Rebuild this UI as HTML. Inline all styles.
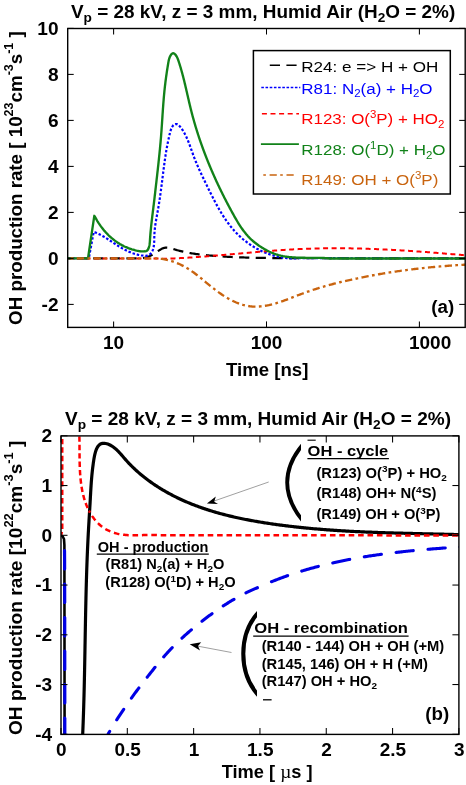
<!DOCTYPE html><html><head><meta charset="utf-8"><style>html,body{margin:0;padding:0;background:#fff;overflow:hidden}svg{display:block;will-change:transform}</style></head><body>
<svg width="466" height="785" viewBox="0 0 466 785">
<rect width="466" height="785" fill="#fff"/>
<text font-family="Liberation Sans, sans-serif" font-weight="bold" font-size="18" x="71" y="17.8" textLength="384.2" lengthAdjust="spacingAndGlyphs">V<tspan font-size="13" dy="4">p</tspan><tspan dy="-4"> = 28 kV, z = 3 mm, Humid Air (H</tspan><tspan font-size="13" dy="4">2</tspan><tspan dy="-4">O = 2%)</tspan></text>
<defs><clipPath id="ca"><rect x="67.7" y="28.5" width="397.5" height="298.9"/></clipPath>
<clipPath id="cb"><rect x="61.0" y="435.9" width="397.9" height="298.5"/></clipPath></defs>
<g clip-path="url(#ca)" fill="none" stroke-linejoin="round">
<path d="M60.00,258.40 L138.00,258.40 L139.20,258.38 L140.44,258.34 L141.67,258.25 L142.88,258.11 L144.09,257.92 L145.27,257.67 L146.43,257.36 L147.57,256.99 L148.68,256.57 L149.77,256.08 L150.84,255.55 L151.90,254.98 L152.94,254.37 L153.98,253.73 L155.01,253.07 L156.04,252.39 L157.07,251.69 L158.11,251.00 L159.16,250.33 L160.21,249.69 L161.28,249.10 L162.35,248.58 L163.43,248.14 L164.53,247.81 L165.64,247.59 L166.76,247.51 L167.90,247.58 L169.05,247.77 L170.21,248.06 L171.38,248.41 L172.56,248.79 L173.73,249.16 L174.91,249.52 L176.09,249.87 L177.27,250.20 L178.46,250.52 L179.64,250.83 L180.83,251.13 L182.01,251.42 L183.20,251.69 L184.39,251.95 L185.58,252.20 L186.77,252.45 L187.97,252.68 L189.16,252.90 L190.36,253.11 L191.55,253.32 L192.75,253.51 L193.95,253.70 L195.15,253.88 L196.35,254.05 L197.55,254.21 L198.75,254.37 L199.95,254.52 L201.16,254.66 L202.36,254.80 L203.56,254.93 L204.77,255.06 L205.98,255.18 L207.18,255.30 L208.39,255.41 L209.60,255.52 L210.81,255.62 L212.01,255.72 L213.22,255.82 L214.43,255.92 L215.64,256.01 L216.85,256.10 L218.06,256.19 L219.28,256.27 L220.49,256.36 L221.70,256.43 L222.91,256.51 L224.12,256.58 L225.34,256.66 L226.55,256.73 L227.76,256.79 L228.98,256.86 L230.19,256.92 L231.41,256.98 L232.62,257.03 L233.84,257.09 L235.05,257.14 L236.27,257.19 L237.48,257.24 L238.70,257.29 L239.91,257.34 L241.13,257.38 L242.34,257.42 L243.56,257.46 L244.78,257.50 L245.99,257.54 L247.21,257.57 L248.43,257.61 L249.64,257.64 L250.86,257.67 L252.07,257.70 L253.29,257.73 L254.51,257.75 L255.72,257.78 L256.94,257.81 L258.16,257.83 L259.37,257.85 L260.59,257.87 L261.80,257.89 L263.02,257.91 L264.24,257.93 L265.45,257.95 L266.67,257.97 L267.88,257.99 L269.10,258.00 L270.31,258.02 L271.53,258.03 L272.74,258.05 L273.96,258.06 L275.17,258.08 L276.38,258.09 L277.60,258.11 L278.81,258.12 L280.02,258.13 L281.24,258.15 L282.45,258.16 L283.66,258.18 L284.87,258.19 L286.08,258.20 L287.29,258.22 L470.00,258.40" stroke="#000" stroke-width="2.2" stroke-dasharray="10.2 6.4"/>
<path d="M60.00,258.40 L88.80,258.40 L88.80,258.40 L93.70,232.00 L94.90,232.27 L96.02,232.74 L97.13,233.23 L98.22,233.74 L99.30,234.27 L100.37,234.82 L101.43,235.38 L102.48,235.96 L103.52,236.56 L104.55,237.17 L105.58,237.78 L106.60,238.41 L107.61,239.05 L108.62,239.69 L109.62,240.34 L110.63,241.00 L111.63,241.65 L112.63,242.31 L113.63,242.97 L114.63,243.63 L115.64,244.28 L116.65,244.93 L117.66,245.57 L118.67,246.21 L119.70,246.84 L120.73,247.45 L121.76,248.06 L122.81,248.65 L123.86,249.23 L124.93,249.80 L126.00,250.34 L127.09,250.87 L128.20,251.38 L129.31,251.87 L130.44,252.33 L131.59,252.77 L132.75,253.19 L133.92,253.58 L135.10,253.94 L136.28,254.27 L137.47,254.58 L138.67,254.86 L139.87,255.11 L141.06,255.33 L142.26,255.52 L143.45,255.67 L144.63,255.78 L145.79,255.80 L146.90,255.69 L147.97,255.40 L148.96,254.92 L149.87,254.28 L150.70,253.51 L151.43,252.63 L152.05,251.67 L152.57,250.65 L153.00,249.56 L153.34,248.43 L153.62,247.24 L153.83,246.01 L153.98,244.75 L154.09,243.47 L154.17,242.16 L154.22,240.84 L154.25,239.51 L154.27,238.18 L154.30,236.86 L154.34,235.56 L154.40,234.27 L154.47,233.00 L154.56,231.74 L154.67,230.50 L154.79,229.27 L154.92,228.06 L155.06,226.85 L155.22,225.66 L155.39,224.48 L155.56,223.30 L155.75,222.14 L155.94,220.98 L156.13,219.82 L156.34,218.67 L156.54,217.52 L156.75,216.38 L156.96,215.23 L157.18,214.08 L157.39,212.94 L157.60,211.79 L157.82,210.63 L158.02,209.48 L158.23,208.31 L158.43,207.15 L158.63,205.97 L158.82,204.79 L159.01,203.61 L159.20,202.42 L159.38,201.23 L159.56,200.03 L159.74,198.83 L159.92,197.63 L160.09,196.43 L160.26,195.22 L160.43,194.01 L160.59,192.79 L160.76,191.58 L160.92,190.36 L161.08,189.14 L161.24,187.92 L161.40,186.71 L161.56,185.49 L161.71,184.26 L161.87,183.04 L162.02,181.82 L162.18,180.61 L162.33,179.39 L162.48,178.17 L162.64,176.95 L162.79,175.74 L162.94,174.53 L163.09,173.32 L163.25,172.11 L163.40,170.91 L163.55,169.71 L163.71,168.51 L163.87,167.32 L164.02,166.13 L164.18,164.94 L164.34,163.76 L164.50,162.59 L164.67,161.42 L164.83,160.25 L165.00,159.09 L165.16,157.94 L165.34,156.79 L165.51,155.65 L165.68,154.52 L165.86,153.39 L166.04,152.27 L166.23,151.15 L166.42,150.04 L166.62,148.92 L166.82,147.79 L167.02,146.66 L167.24,145.51 L167.46,144.35 L167.70,143.18 L167.94,141.99 L168.19,140.77 L168.46,139.53 L168.74,138.26 L169.02,136.96 L169.33,135.63 L169.65,134.26 L169.98,132.87 L170.35,131.48 L170.75,130.12 L171.21,128.83 L171.73,127.63 L172.33,126.56 L173.00,125.64 L173.77,124.91 L174.64,124.39 L175.58,124.11 L176.53,124.10 L177.46,124.37 L178.33,124.91 L179.17,125.65 L179.96,126.53 L180.72,127.48 L181.45,128.46 L182.14,129.45 L182.81,130.46 L183.45,131.49 L184.06,132.53 L184.65,133.58 L185.22,134.65 L185.77,135.73 L186.29,136.82 L186.80,137.92 L187.29,139.04 L187.77,140.15 L188.23,141.28 L188.68,142.41 L189.12,143.55 L189.55,144.69 L189.97,145.84 L190.39,146.99 L190.80,148.14 L191.21,149.29 L191.61,150.44 L192.02,151.60 L192.43,152.74 L192.84,153.89 L193.25,155.03 L193.67,156.17 L194.10,157.30 L194.53,158.43 L194.97,159.55 L195.42,160.66 L195.87,161.77 L196.33,162.88 L196.79,163.98 L197.26,165.08 L197.74,166.18 L198.22,167.27 L198.70,168.36 L199.19,169.45 L199.69,170.53 L200.19,171.62 L200.69,172.70 L201.19,173.78 L201.70,174.86 L202.21,175.93 L202.73,177.01 L203.24,178.09 L203.76,179.16 L204.28,180.24 L204.81,181.32 L205.33,182.40 L205.86,183.48 L206.38,184.56 L206.91,185.64 L207.44,186.73 L207.97,187.81 L208.50,188.90 L209.03,189.98 L209.57,191.07 L210.11,192.16 L210.65,193.25 L211.19,194.33 L211.73,195.42 L212.28,196.50 L212.83,197.59 L213.39,198.67 L213.95,199.75 L214.51,200.83 L215.08,201.90 L215.65,202.98 L216.23,204.05 L216.81,205.11 L217.40,206.18 L217.99,207.24 L218.59,208.29 L219.20,209.35 L219.81,210.39 L220.42,211.44 L221.05,212.48 L221.68,213.51 L222.32,214.54 L222.96,215.56 L223.61,216.57 L224.27,217.58 L224.94,218.59 L225.62,219.58 L226.30,220.57 L227.00,221.55 L227.70,222.53 L228.41,223.49 L229.13,224.45 L229.86,225.40 L230.60,226.34 L231.35,227.27 L232.12,228.19 L232.89,229.11 L233.67,230.01 L234.46,230.90 L235.27,231.79 L236.08,232.66 L236.91,233.52 L237.75,234.37 L238.60,235.21 L239.47,236.04 L240.34,236.85 L241.23,237.66 L242.14,238.45 L243.05,239.23 L243.98,239.99 L244.91,240.75 L245.86,241.49 L246.82,242.22 L247.79,242.93 L248.77,243.63 L249.76,244.32 L250.76,244.99 L251.78,245.65 L252.80,246.29 L253.83,246.92 L254.87,247.54 L255.92,248.14 L256.97,248.73 L258.04,249.30 L259.11,249.85 L260.20,250.39 L261.28,250.91 L262.38,251.42 L263.49,251.91 L264.60,252.39 L265.72,252.85 L266.84,253.29 L267.97,253.71 L269.11,254.12 L270.25,254.51 L271.40,254.89 L272.55,255.24 L273.71,255.58 L274.88,255.90 L276.04,256.20 L277.22,256.49 L278.39,256.75 L279.57,257.00 L280.76,257.23 L281.95,257.43 L283.14,257.62 L284.33,257.79 L285.53,257.94 L286.73,258.07 L287.93,258.18 L289.13,258.27 L290.33,258.34 L291.54,258.39 L292.75,258.42 L293.96,258.43 L295.17,258.41 L296.38,258.38 L297.59,258.32 L298.80,258.24 L300.01,258.14 L470.00,258.50" stroke="#0000ff" stroke-width="2.2" stroke-dasharray="2.5 1.85"/>
<path d="M60.00,258.60 L160.00,258.60 L161.23,258.90 L162.44,258.87 L163.64,258.83 L164.85,258.80 L166.06,258.76 L167.26,258.71 L168.47,258.67 L169.68,258.62 L170.88,258.57 L172.09,258.52 L173.29,258.47 L174.50,258.41 L175.71,258.36 L176.91,258.30 L178.12,258.24 L179.32,258.17 L180.53,258.11 L181.74,258.04 L182.94,257.98 L184.15,257.91 L185.35,257.84 L186.56,257.76 L187.76,257.69 L188.97,257.61 L190.18,257.53 L191.38,257.45 L192.59,257.37 L193.79,257.29 L195.00,257.21 L196.20,257.12 L197.41,257.04 L198.61,256.95 L199.82,256.86 L201.03,256.77 L202.23,256.68 L203.44,256.59 L204.64,256.50 L205.85,256.40 L207.05,256.31 L208.26,256.21 L209.46,256.12 L210.67,256.02 L211.87,255.92 L213.08,255.82 L214.28,255.72 L215.49,255.62 L216.69,255.52 L217.90,255.42 L219.10,255.32 L220.31,255.21 L221.51,255.11 L222.72,255.01 L223.92,254.90 L225.13,254.80 L226.33,254.69 L227.54,254.59 L228.74,254.48 L229.95,254.37 L231.15,254.27 L232.36,254.16 L233.56,254.05 L234.77,253.95 L235.98,253.84 L237.18,253.73 L238.39,253.63 L239.59,253.52 L240.80,253.41 L242.00,253.30 L243.21,253.20 L244.41,253.09 L245.62,252.99 L246.82,252.88 L248.03,252.77 L249.23,252.67 L250.44,252.56 L251.64,252.46 L252.85,252.35 L254.05,252.25 L255.26,252.15 L256.46,252.05 L257.67,251.94 L258.87,251.84 L260.08,251.74 L261.28,251.64 L262.49,251.54 L263.69,251.44 L264.90,251.35 L266.10,251.25 L267.31,251.15 L268.51,251.06 L269.72,250.97 L270.92,250.87 L272.13,250.78 L273.33,250.69 L274.54,250.60 L275.74,250.51 L276.95,250.43 L278.16,250.34 L279.36,250.26 L280.57,250.17 L281.77,250.09 L282.98,250.01 L284.18,249.93 L285.39,249.85 L286.59,249.78 L287.80,249.70 L289.01,249.63 L290.21,249.56 L291.42,249.49 L292.62,249.42 L293.83,249.36 L295.03,249.29 L296.24,249.23 L297.45,249.17 L298.65,249.11 L299.86,249.05 L301.06,249.00 L302.27,248.94 L303.48,248.89 L304.68,248.85 L305.89,248.80 L307.09,248.75 L308.30,248.71 L309.51,248.67 L310.71,248.63 L311.92,248.59 L313.13,248.56 L314.33,248.53 L315.54,248.50 L316.75,248.47 L317.95,248.44 L319.16,248.41 L320.36,248.39 L321.57,248.37 L322.78,248.35 L323.98,248.33 L325.19,248.31 L326.40,248.30 L327.60,248.29 L328.81,248.28 L330.02,248.27 L331.22,248.26 L332.43,248.25 L333.64,248.25 L334.84,248.25 L336.05,248.25 L337.26,248.25 L338.47,248.25 L339.67,248.26 L340.88,248.26 L342.09,248.27 L343.29,248.28 L344.50,248.29 L345.71,248.31 L346.91,248.32 L348.12,248.34 L349.33,248.35 L350.54,248.37 L351.74,248.39 L352.95,248.41 L354.16,248.44 L355.36,248.46 L356.57,248.49 L357.78,248.52 L358.99,248.55 L360.19,248.58 L361.40,248.61 L362.61,248.64 L363.81,248.68 L365.02,248.72 L366.23,248.75 L367.44,248.79 L368.64,248.83 L369.85,248.88 L371.06,248.92 L372.26,248.96 L373.47,249.01 L374.68,249.06 L375.89,249.10 L377.09,249.15 L378.30,249.21 L379.51,249.26 L380.71,249.31 L381.92,249.37 L383.13,249.42 L384.34,249.48 L385.54,249.54 L386.75,249.59 L387.96,249.66 L389.16,249.72 L390.37,249.78 L391.58,249.84 L392.79,249.91 L393.99,249.97 L395.20,250.04 L396.41,250.11 L397.61,250.18 L398.82,250.25 L400.03,250.32 L401.23,250.39 L402.44,250.46 L403.65,250.54 L404.86,250.61 L406.06,250.69 L407.27,250.76 L408.48,250.84 L409.68,250.92 L410.89,251.00 L412.10,251.08 L413.30,251.16 L414.51,251.24 L415.72,251.33 L416.92,251.41 L418.13,251.49 L419.34,251.58 L420.54,251.67 L421.75,251.75 L422.96,251.84 L424.16,251.93 L425.37,252.02 L426.58,252.11 L427.78,252.20 L428.99,252.29 L430.20,252.38 L431.40,252.47 L432.61,252.57 L433.82,252.66 L435.02,252.76 L436.23,252.85 L437.44,252.95 L438.64,253.04 L439.85,253.14 L441.05,253.24 L442.26,253.33 L443.47,253.43 L444.67,253.53 L445.88,253.63 L447.09,253.73 L448.29,253.83 L449.50,253.93 L450.70,254.03 L451.91,254.14 L453.11,254.24 L454.32,254.34 L455.53,254.44 L456.73,254.55 L457.94,254.65 L459.14,254.75 L460.35,254.86 L461.55,254.96 L462.76,255.07 L463.96,255.17 L465.17,255.28 L466.38,255.39 L467.58,255.49 L468.79,255.60 L469.99,255.71" stroke="#ff0000" stroke-width="2" stroke-dasharray="5 3.5"/>
<path d="M60.00,258.40 L88.00,258.40 L94.30,215.80 L94.95,216.76 L95.53,217.85 L96.13,218.93 L96.75,220.00 L97.37,221.05 L98.02,222.09 L98.67,223.12 L99.35,224.14 L100.03,225.14 L100.73,226.14 L101.45,227.11 L102.18,228.07 L102.93,229.02 L103.69,229.96 L104.46,230.88 L105.25,231.78 L106.05,232.67 L106.87,233.54 L107.70,234.40 L108.54,235.24 L109.40,236.06 L110.28,236.87 L111.17,237.66 L112.07,238.43 L112.99,239.18 L113.92,239.91 L114.86,240.63 L115.82,241.33 L116.79,242.01 L117.78,242.66 L118.78,243.30 L119.79,243.92 L120.82,244.52 L121.86,245.10 L122.91,245.65 L123.98,246.19 L125.06,246.70 L126.16,247.19 L127.27,247.66 L128.39,248.11 L129.52,248.53 L130.67,248.93 L131.83,249.31 L133.01,249.66 L134.20,249.99 L135.40,250.30 L136.62,250.58 L137.85,250.83 L139.08,251.06 L140.32,251.24 L141.55,251.37 L142.75,251.43 L143.91,251.41 L145.03,251.29 L146.09,251.06 L147.02,250.63 L147.76,249.87 L148.33,248.88 L148.77,247.77 L149.12,246.63 L149.38,245.46 L149.58,244.26 L149.73,243.04 L149.84,241.80 L149.93,240.57 L150.01,239.32 L150.09,238.09 L150.18,236.86 L150.28,235.63 L150.37,234.41 L150.48,233.19 L150.58,231.97 L150.69,230.76 L150.81,229.55 L150.93,228.35 L151.05,227.15 L151.18,225.95 L151.30,224.75 L151.44,223.56 L151.57,222.36 L151.71,221.17 L151.84,219.99 L151.98,218.80 L152.13,217.61 L152.27,216.43 L152.41,215.24 L152.56,214.06 L152.71,212.87 L152.85,211.69 L153.00,210.50 L153.15,209.32 L153.30,208.13 L153.44,206.95 L153.59,205.76 L153.74,204.57 L153.88,203.38 L154.02,202.19 L154.17,200.99 L154.31,199.80 L154.45,198.60 L154.59,197.41 L154.73,196.21 L154.87,195.01 L155.01,193.81 L155.15,192.61 L155.28,191.41 L155.42,190.21 L155.56,189.01 L155.69,187.81 L155.83,186.61 L155.97,185.41 L156.11,184.21 L156.24,183.01 L156.38,181.81 L156.52,180.61 L156.65,179.41 L156.79,178.21 L156.93,177.02 L157.06,175.82 L157.20,174.62 L157.33,173.43 L157.47,172.23 L157.60,171.03 L157.74,169.84 L157.87,168.64 L158.00,167.45 L158.14,166.25 L158.27,165.05 L158.40,163.86 L158.53,162.66 L158.65,161.47 L158.78,160.27 L158.91,159.08 L159.03,157.88 L159.16,156.69 L159.28,155.49 L159.40,154.30 L159.52,153.10 L159.64,151.91 L159.76,150.71 L159.88,149.51 L159.99,148.32 L160.10,147.12 L160.22,145.92 L160.33,144.73 L160.43,143.53 L160.54,142.33 L160.65,141.13 L160.75,139.94 L160.85,138.74 L160.95,137.54 L161.05,136.34 L161.14,135.14 L161.23,133.94 L161.32,132.74 L161.41,131.54 L161.50,130.34 L161.59,129.14 L161.67,127.93 L161.75,126.73 L161.84,125.53 L161.92,124.33 L162.00,123.13 L162.08,121.92 L162.16,120.72 L162.24,119.52 L162.32,118.31 L162.40,117.11 L162.47,115.91 L162.55,114.71 L162.63,113.50 L162.72,112.30 L162.80,111.10 L162.88,109.90 L162.96,108.70 L163.05,107.49 L163.14,106.29 L163.22,105.09 L163.31,103.89 L163.41,102.69 L163.50,101.49 L163.60,100.29 L163.69,99.09 L163.79,97.89 L163.90,96.70 L164.00,95.50 L164.11,94.30 L164.23,93.11 L164.34,91.91 L164.46,90.72 L164.59,89.52 L164.71,88.33 L164.84,87.14 L164.98,85.95 L165.12,84.76 L165.26,83.57 L165.40,82.38 L165.55,81.19 L165.71,80.00 L165.86,78.81 L166.03,77.62 L166.19,76.43 L166.36,75.24 L166.53,74.05 L166.70,72.86 L166.88,71.66 L167.06,70.47 L167.25,69.28 L167.44,68.08 L167.63,66.88 L167.82,65.69 L168.02,64.49 L168.22,63.28 L168.43,62.08 L168.65,60.88 L168.92,59.68 L169.24,58.50 L169.66,57.33 L170.18,56.18 L170.83,55.07 L171.60,54.08 L172.45,53.40 L173.36,53.25 L174.26,53.63 L175.12,54.37 L175.87,55.26 L176.52,56.24 L177.08,57.28 L177.57,58.38 L178.01,59.51 L178.42,60.67 L178.81,61.84 L179.19,63.01 L179.56,64.17 L179.92,65.34 L180.28,66.51 L180.63,67.69 L180.97,68.86 L181.31,70.03 L181.64,71.20 L181.97,72.37 L182.29,73.55 L182.60,74.72 L182.91,75.89 L183.21,77.07 L183.51,78.24 L183.81,79.41 L184.10,80.59 L184.39,81.76 L184.68,82.94 L184.96,84.11 L185.24,85.29 L185.51,86.46 L185.79,87.64 L186.06,88.81 L186.33,89.98 L186.61,91.16 L186.88,92.33 L187.14,93.50 L187.41,94.68 L187.68,95.85 L187.95,97.02 L188.22,98.19 L188.49,99.36 L188.76,100.53 L189.03,101.70 L189.30,102.87 L189.58,104.04 L189.86,105.21 L190.14,106.38 L190.42,107.54 L190.71,108.71 L191.00,109.87 L191.29,111.04 L191.59,112.20 L191.89,113.36 L192.19,114.52 L192.50,115.68 L192.81,116.84 L193.13,118.00 L193.45,119.16 L193.77,120.31 L194.10,121.47 L194.43,122.62 L194.76,123.77 L195.10,124.93 L195.44,126.08 L195.79,127.23 L196.14,128.38 L196.49,129.52 L196.85,130.67 L197.21,131.82 L197.57,132.96 L197.94,134.11 L198.31,135.25 L198.69,136.39 L199.07,137.53 L199.45,138.67 L199.83,139.81 L200.22,140.95 L200.61,142.08 L201.01,143.22 L201.41,144.35 L201.81,145.48 L202.22,146.62 L202.63,147.75 L203.04,148.88 L203.45,150.01 L203.87,151.13 L204.30,152.26 L204.72,153.39 L205.15,154.51 L205.58,155.63 L206.02,156.75 L206.46,157.87 L206.90,158.99 L207.35,160.11 L207.79,161.23 L208.25,162.35 L208.70,163.46 L209.16,164.57 L209.62,165.69 L210.08,166.80 L210.55,167.91 L211.02,169.02 L211.50,170.13 L211.97,171.23 L212.45,172.34 L212.93,173.44 L213.42,174.54 L213.91,175.65 L214.40,176.75 L214.89,177.85 L215.39,178.94 L215.89,180.04 L216.39,181.14 L216.90,182.23 L217.41,183.32 L217.92,184.41 L218.43,185.50 L218.95,186.59 L219.47,187.68 L219.99,188.77 L220.52,189.85 L221.05,190.94 L221.58,192.02 L222.11,193.10 L222.65,194.18 L223.18,195.26 L223.73,196.34 L224.27,197.41 L224.82,198.49 L225.37,199.56 L225.92,200.63 L226.47,201.70 L227.03,202.77 L227.59,203.84 L228.15,204.91 L228.71,205.97 L229.28,207.04 L229.85,208.10 L230.42,209.16 L231.00,210.22 L231.57,211.28 L232.15,212.33 L232.73,213.39 L233.32,214.44 L233.90,215.50 L234.49,216.55 L235.09,217.59 L235.68,218.64 L236.29,219.68 L236.90,220.72 L237.51,221.75 L238.14,222.77 L238.77,223.79 L239.41,224.80 L240.06,225.81 L240.72,226.81 L241.39,227.80 L242.07,228.78 L242.76,229.75 L243.47,230.71 L244.19,231.66 L244.93,232.60 L245.68,233.53 L246.44,234.44 L247.22,235.34 L248.02,236.23 L248.84,237.10 L249.68,237.96 L250.53,238.81 L251.40,239.64 L252.30,240.45 L253.21,241.24 L254.15,242.02 L255.10,242.79 L256.06,243.53 L257.04,244.26 L258.04,244.98 L259.04,245.68 L260.06,246.36 L261.09,247.03 L262.12,247.68 L263.16,248.32 L264.20,248.94 L265.25,249.54 L266.31,250.13 L267.38,250.69 L268.45,251.24 L269.52,251.76 L270.61,252.26 L271.70,252.74 L272.80,253.19 L273.91,253.62 L275.03,254.02 L276.15,254.40 L277.28,254.74 L278.42,255.07 L279.57,255.37 L280.72,255.65 L281.88,255.90 L283.05,256.14 L284.22,256.35 L285.40,256.55 L286.58,256.72 L287.77,256.88 L288.96,257.03 L290.16,257.15 L291.36,257.27 L292.56,257.37 L293.77,257.45 L294.98,257.53 L296.19,257.59 L297.41,257.64 L298.63,257.68 L299.85,257.72 L301.07,257.75 L302.29,257.77 L303.51,257.78 L304.73,257.79 L305.96,257.80 L307.18,257.80 L308.40,257.80 L309.62,257.80 L310.84,257.80 L312.06,257.80 L313.28,257.80 L314.49,257.81 L315.71,257.82 L316.92,257.83 L318.12,257.84 L319.33,257.87 L320.53,257.90 L321.72,257.93 L322.91,257.98 L324.10,258.04 L325.28,258.10 L326.46,258.18 L327.63,258.27 L328.80,258.37 L329.95,258.49 L470.00,258.50" stroke="#118219" stroke-width="2.35"/>
<path d="M60.00,258.40 L150.00,258.40 L151.15,258.55 L152.39,258.48 L153.61,258.44 L154.84,258.43 L156.06,258.45 L157.27,258.50 L158.49,258.57 L159.69,258.67 L160.89,258.80 L162.09,258.95 L163.28,259.13 L164.47,259.33 L165.65,259.56 L166.83,259.82 L168.00,260.09 L169.16,260.39 L170.31,260.71 L171.46,261.06 L172.61,261.42 L173.74,261.81 L174.87,262.22 L175.99,262.64 L177.10,263.09 L178.21,263.56 L179.30,264.05 L180.39,264.55 L181.47,265.07 L182.54,265.61 L183.60,266.17 L184.66,266.74 L185.70,267.33 L186.73,267.94 L187.76,268.56 L188.77,269.19 L189.77,269.84 L190.77,270.50 L191.75,271.17 L192.73,271.86 L193.70,272.56 L194.66,273.26 L195.62,273.98 L196.57,274.71 L197.51,275.44 L198.45,276.18 L199.39,276.93 L200.33,277.69 L201.26,278.44 L202.19,279.21 L203.12,279.98 L204.05,280.75 L204.98,281.52 L205.91,282.29 L206.85,283.07 L207.78,283.84 L208.72,284.61 L209.66,285.39 L210.61,286.16 L211.56,286.92 L212.52,287.68 L213.48,288.44 L214.45,289.20 L215.42,289.94 L216.41,290.68 L217.39,291.42 L218.39,292.14 L219.39,292.86 L220.40,293.56 L221.41,294.26 L222.43,294.94 L223.46,295.62 L224.49,296.28 L225.53,296.92 L226.57,297.56 L227.62,298.17 L228.68,298.77 L229.74,299.36 L230.81,299.93 L231.88,300.48 L232.96,301.01 L234.05,301.52 L235.14,302.01 L236.23,302.49 L237.33,302.94 L238.44,303.36 L239.55,303.77 L240.67,304.15 L241.79,304.50 L242.92,304.84 L244.06,305.14 L245.20,305.42 L246.34,305.67 L247.49,305.89 L248.65,306.08 L249.81,306.25 L250.97,306.38 L252.14,306.48 L253.31,306.55 L254.49,306.59 L255.68,306.60 L256.86,306.59 L258.05,306.54 L259.24,306.47 L260.43,306.38 L261.63,306.26 L262.82,306.12 L264.02,305.95 L265.22,305.76 L266.41,305.56 L267.61,305.33 L268.80,305.09 L269.99,304.82 L271.18,304.54 L272.36,304.25 L273.55,303.94 L274.73,303.61 L275.90,303.28 L277.07,302.93 L278.24,302.57 L279.40,302.20 L280.55,301.82 L281.70,301.43 L282.85,301.03 L283.99,300.63 L285.13,300.22 L286.27,299.80 L287.40,299.38 L288.54,298.95 L289.67,298.52 L290.79,298.09 L291.92,297.65 L293.05,297.21 L294.17,296.77 L295.29,296.33 L296.42,295.90 L297.54,295.46 L298.66,295.02 L299.79,294.59 L300.91,294.16 L302.04,293.73 L303.17,293.31 L304.30,292.89 L305.43,292.48 L306.56,292.08 L307.70,291.68 L308.83,291.28 L309.97,290.89 L311.11,290.50 L312.25,290.12 L313.40,289.75 L314.54,289.37 L315.69,289.01 L316.84,288.65 L317.98,288.29 L319.14,287.93 L320.29,287.58 L321.44,287.24 L322.60,286.90 L323.75,286.56 L324.91,286.23 L326.07,285.90 L327.23,285.58 L328.39,285.26 L329.55,284.94 L330.71,284.63 L331.88,284.32 L333.04,284.01 L334.21,283.71 L335.37,283.41 L336.54,283.11 L337.71,282.82 L338.88,282.53 L340.05,282.24 L341.22,281.96 L342.40,281.68 L343.57,281.40 L344.74,281.13 L345.92,280.86 L347.09,280.59 L348.27,280.32 L349.44,280.06 L350.62,279.80 L351.80,279.54 L352.98,279.28 L354.15,279.03 L355.33,278.78 L356.51,278.53 L357.69,278.28 L358.87,278.04 L360.05,277.80 L361.23,277.56 L362.42,277.32 L363.60,277.08 L364.78,276.85 L365.96,276.62 L367.15,276.39 L368.33,276.16 L369.51,275.94 L370.70,275.72 L371.88,275.50 L373.07,275.28 L374.25,275.06 L375.44,274.85 L376.62,274.64 L377.81,274.43 L379.00,274.22 L380.19,274.02 L381.37,273.82 L382.56,273.62 L383.75,273.42 L384.94,273.22 L386.13,273.03 L387.32,272.84 L388.51,272.65 L389.70,272.46 L390.89,272.27 L392.08,272.09 L393.27,271.91 L394.46,271.73 L395.65,271.55 L396.85,271.38 L398.04,271.21 L399.23,271.04 L400.43,270.87 L401.62,270.70 L402.81,270.54 L404.01,270.38 L405.20,270.22 L406.40,270.06 L407.59,269.90 L408.79,269.75 L409.98,269.60 L411.18,269.45 L412.37,269.30 L413.57,269.15 L414.76,269.01 L415.96,268.87 L417.16,268.73 L418.36,268.59 L419.55,268.45 L420.75,268.32 L421.95,268.19 L423.15,268.06 L424.35,267.93 L425.54,267.80 L426.74,267.68 L427.94,267.56 L429.14,267.44 L430.34,267.32 L431.54,267.20 L432.74,267.09 L433.94,266.98 L435.14,266.87 L436.34,266.76 L437.54,266.65 L438.74,266.55 L439.94,266.44 L441.14,266.34 L442.34,266.24 L443.55,266.14 L444.75,266.05 L445.95,265.96 L447.15,265.86 L448.35,265.77 L449.55,265.69 L450.76,265.60 L451.96,265.52 L453.16,265.43 L454.36,265.35 L455.57,265.27 L456.77,265.20 L457.97,265.12 L459.17,265.05 L460.38,264.98 L461.58,264.91 L462.78,264.84 L463.99,264.77 L465.19,264.71 L466.39,264.64 L467.60,264.58 L468.80,264.52 L470.01,264.47" stroke="#c9640f" stroke-width="2.35" stroke-dasharray="7.3 3.4 2.7 3.4"/>
</g>
<g stroke="#000" stroke-width="1.05" fill="none">
<rect x="67.70" y="28.50" width="397.50" height="298.90" stroke-width="1.4"/>
<line x1="67.70" y1="304.40" x2="73.70" y2="304.40"/>
<line x1="465.20" y1="304.40" x2="459.20" y2="304.40"/>
<line x1="67.70" y1="258.40" x2="73.70" y2="258.40"/>
<line x1="465.20" y1="258.40" x2="459.20" y2="258.40"/>
<line x1="67.70" y1="212.40" x2="73.70" y2="212.40"/>
<line x1="465.20" y1="212.40" x2="459.20" y2="212.40"/>
<line x1="67.70" y1="166.40" x2="73.70" y2="166.40"/>
<line x1="465.20" y1="166.40" x2="459.20" y2="166.40"/>
<line x1="67.70" y1="120.40" x2="73.70" y2="120.40"/>
<line x1="465.20" y1="120.40" x2="459.20" y2="120.40"/>
<line x1="67.70" y1="74.40" x2="73.70" y2="74.40"/>
<line x1="465.20" y1="74.40" x2="459.20" y2="74.40"/>
<line x1="67.70" y1="28.40" x2="73.70" y2="28.40"/>
<line x1="465.20" y1="28.40" x2="459.20" y2="28.40"/>
<line x1="113.60" y1="327.40" x2="113.60" y2="321.40"/>
<line x1="113.60" y1="28.50" x2="113.60" y2="34.50"/>
<line x1="266.50" y1="327.40" x2="266.50" y2="321.40"/>
<line x1="266.50" y1="28.50" x2="266.50" y2="34.50"/>
<line x1="419.40" y1="327.40" x2="419.40" y2="321.40"/>
<line x1="419.40" y1="28.50" x2="419.40" y2="34.50"/>
</g>
<g font-family="Liberation Sans, sans-serif" font-weight="bold" font-size="18" fill="#000">
<text x="58.6" y="310.80" text-anchor="end" textLength="16.97" lengthAdjust="spacingAndGlyphs">-2</text>
<text x="58.6" y="264.80" text-anchor="end" textLength="10.61" lengthAdjust="spacingAndGlyphs">0</text>
<text x="58.6" y="218.80" text-anchor="end" textLength="10.61" lengthAdjust="spacingAndGlyphs">2</text>
<text x="58.6" y="172.80" text-anchor="end" textLength="10.61" lengthAdjust="spacingAndGlyphs">4</text>
<text x="58.6" y="126.80" text-anchor="end" textLength="10.61" lengthAdjust="spacingAndGlyphs">6</text>
<text x="58.6" y="80.80" text-anchor="end" textLength="10.61" lengthAdjust="spacingAndGlyphs">8</text>
<text x="58.6" y="34.80" text-anchor="end" textLength="21.22" lengthAdjust="spacingAndGlyphs">10</text>
<text x="113.60" y="349" text-anchor="middle" textLength="21.12" lengthAdjust="spacingAndGlyphs">10</text>
<text x="266.50" y="349" text-anchor="middle" textLength="31.68" lengthAdjust="spacingAndGlyphs">100</text>
<text x="430.10" y="349" text-anchor="middle" textLength="42.25" lengthAdjust="spacingAndGlyphs">1000</text>
<text x="226" y="376" textLength="82.41" lengthAdjust="spacingAndGlyphs">Time [ns]</text>
<text x="431.3" y="312.7" textLength="22.88" lengthAdjust="spacingAndGlyphs">(a)</text>
<text transform="translate(22.3,324.9) rotate(-90)" textLength="293.7" lengthAdjust="spacingAndGlyphs">OH production rate [ 10<tspan font-size="12" dy="-9">23</tspan><tspan dy="9">cm</tspan><tspan font-size="12" dy="-9">-3</tspan><tspan dy="9">s</tspan><tspan font-size="12" dy="-9">-1</tspan><tspan dy="9"> ]</tspan></text>
</g>
<rect x="253.4" y="50.6" width="196.9" height="143.4" fill="#fff" stroke="#000" stroke-width="1.5"/>
<g stroke-width="1.5" fill="none">
<line x1="269.8" y1="65.2" x2="297" y2="65.2" stroke="#000" stroke-dasharray="10.2 6.4"/>
<line x1="261.3" y1="87.6" x2="300.3" y2="87.6" stroke="#0000ff" stroke-dasharray="2.6 1.6"/>
<line x1="261.9" y1="113.8" x2="299" y2="113.8" stroke="#ff0000" stroke-dasharray="5 3.6"/>
<line x1="260.9" y1="144.1" x2="298.9" y2="144.1" stroke="#118219" stroke-width="1.75"/>
<line x1="263.3" y1="175" x2="294" y2="175" stroke="#c9640f" stroke-dasharray="2.6 3.7 7.2 3.4"/>
</g>
<g font-family="Liberation Sans, sans-serif" font-size="15.5">
<text x="301.3" y="71.9" fill="#000" textLength="137" lengthAdjust="spacingAndGlyphs">R24: e =&gt; H + OH</text>
<text x="301.3" y="93.6" fill="#0000ff" textLength="131.3" lengthAdjust="spacingAndGlyphs">R81: N<tspan font-size="10.5" dy="3.5">2</tspan><tspan dy="-3.5">(a) + H</tspan><tspan font-size="10.5" dy="3.5">2</tspan><tspan dy="-3.5">O</tspan></text>
<text x="301.3" y="124.3" fill="#ff0000" textLength="143" lengthAdjust="spacingAndGlyphs">R123: O(<tspan font-size="10.5" dy="-6">3</tspan><tspan dy="6">P) + HO</tspan><tspan font-size="10.5" dy="3.5">2</tspan></text>
<text x="301.3" y="155" fill="#118219" textLength="144.2" lengthAdjust="spacingAndGlyphs">R128: O(<tspan font-size="10.5" dy="-6">1</tspan><tspan dy="6">D) + H</tspan><tspan font-size="10.5" dy="3.5">2</tspan><tspan dy="-3.5">O</tspan></text>
<text x="301.3" y="185.2" fill="#c9640f" textLength="137" lengthAdjust="spacingAndGlyphs">R149: OH + O(<tspan font-size="10.5" dy="-6">3</tspan><tspan dy="6">P)</tspan></text>
</g>
<text font-family="Liberation Sans, sans-serif" font-weight="bold" font-size="18" x="65" y="424.8" textLength="386" lengthAdjust="spacingAndGlyphs">V<tspan font-size="13" dy="4">p</tspan><tspan dy="-4"> = 28 kV, z = 3 mm, Humid Air (H</tspan><tspan font-size="13" dy="4">2</tspan><tspan dy="-4">O = 2%)</tspan></text>
<g clip-path="url(#cb)" fill="none" stroke-linejoin="round">
<path d="M61.00,535.30 L62.60,536.30 L64.00,539.00 L64.40,545.00 L64.60,745.00" stroke="#000" stroke-width="2.6"/>
<path d="M82.19,745.03 L82.25,743.82 L82.31,742.61 L82.37,741.40 L82.43,740.19 L82.48,738.98 L82.54,737.78 L82.59,736.57 L82.64,735.36 L82.70,734.15 L82.75,732.94 L82.80,731.74 L82.85,730.53 L82.90,729.32 L82.95,728.12 L83.00,726.91 L83.04,725.70 L83.09,724.50 L83.14,723.29 L83.18,722.09 L83.22,720.88 L83.27,719.67 L83.31,718.47 L83.35,717.26 L83.39,716.06 L83.44,714.85 L83.48,713.65 L83.51,712.45 L83.55,711.24 L83.59,710.04 L83.63,708.83 L83.67,707.63 L83.70,706.43 L83.74,705.22 L83.77,704.02 L83.81,702.82 L83.84,701.61 L83.88,700.41 L83.91,699.21 L83.94,698.00 L83.98,696.80 L84.01,695.60 L84.04,694.40 L84.07,693.19 L84.10,691.99 L84.13,690.79 L84.16,689.59 L84.19,688.39 L84.22,687.18 L84.25,685.98 L84.27,684.78 L84.30,683.58 L84.33,682.38 L84.35,681.18 L84.38,679.98 L84.41,678.78 L84.43,677.57 L84.46,676.37 L84.48,675.17 L84.51,673.97 L84.53,672.77 L84.56,671.57 L84.58,670.37 L84.60,669.17 L84.63,667.97 L84.65,666.77 L84.67,665.57 L84.70,664.37 L84.72,663.17 L84.74,661.97 L84.76,660.77 L84.79,659.57 L84.81,658.37 L84.83,657.17 L84.85,655.97 L84.87,654.77 L84.90,653.57 L84.92,652.37 L84.94,651.17 L84.96,649.97 L84.98,648.77 L85.00,647.57 L85.02,646.37 L85.04,645.17 L85.06,643.97 L85.09,642.77 L85.11,641.57 L85.13,640.37 L85.15,639.17 L85.17,637.97 L85.19,636.77 L85.21,635.57 L85.23,634.37 L85.25,633.17 L85.27,631.97 L85.30,630.77 L85.32,629.57 L85.34,628.37 L85.36,627.17 L85.38,625.97 L85.40,624.77 L85.43,623.57 L85.45,622.37 L85.47,621.17 L85.49,619.97 L85.52,618.77 L85.54,617.56 L85.56,616.36 L85.59,615.16 L85.61,613.96 L85.63,612.76 L85.66,611.56 L85.68,610.36 L85.71,609.16 L85.73,607.96 L85.76,606.76 L85.78,605.55 L85.81,604.35 L85.84,603.15 L85.86,601.95 L85.89,600.75 L85.92,599.55 L85.95,598.34 L85.97,597.14 L86.00,595.94 L86.03,594.74 L86.06,593.54 L86.09,592.33 L86.12,591.13 L86.15,589.93 L86.18,588.72 L86.21,587.52 L86.25,586.32 L86.28,585.12 L86.31,583.91 L86.35,582.71 L86.38,581.50 L86.41,580.30 L86.45,579.10 L86.49,577.89 L86.52,576.69 L86.56,575.48 L86.60,574.28 L86.64,573.07 L86.67,571.87 L86.71,570.66 L86.75,569.46 L86.79,568.25 L86.84,567.05 L86.88,565.84 L86.92,564.64 L86.96,563.43 L87.01,562.22 L87.05,561.02 L87.10,559.81 L87.14,558.60 L87.19,557.39 L87.24,556.19 L87.29,554.98 L87.34,553.77 L87.39,552.56 L87.44,551.36 L87.49,550.15 L87.54,548.94 L87.60,547.73 L87.65,546.52 L87.71,545.31 L87.76,544.10 L87.82,542.89 L87.88,541.68 L87.93,540.47 L87.99,539.26 L88.05,538.05 L88.11,536.84 L88.18,535.63 L88.24,534.42 L88.30,533.20 L88.37,531.99 L88.44,530.78 L88.50,529.57 L88.57,528.35 L88.64,527.14 L88.71,525.93 L88.78,524.72 L88.85,523.50 L88.92,522.29 L88.99,521.08 L89.06,519.87 L89.14,518.66 L89.21,517.46 L89.28,516.25 L89.35,515.05 L89.43,513.84 L89.50,512.64 L89.57,511.45 L89.64,510.25 L89.72,509.05 L89.79,507.86 L89.86,506.67 L89.93,505.49 L90.00,504.30 L90.07,503.12 L90.13,501.95 L90.20,500.77 L90.27,499.60 L90.33,498.44 L90.39,497.27 L90.46,496.11 L90.52,494.95 L90.59,493.79 L90.65,492.64 L90.72,491.48 L90.78,490.32 L90.85,489.16 L90.92,488.00 L90.99,486.84 L91.07,485.68 L91.15,484.51 L91.23,483.34 L91.31,482.16 L91.40,480.98 L91.50,479.79 L91.59,478.60 L91.70,477.40 L91.81,476.20 L91.92,474.98 L92.04,473.76 L92.16,472.53 L92.30,471.29 L92.43,470.04 L92.58,468.78 L92.73,467.51 L92.90,466.23 L93.07,464.93 L93.24,463.63 L93.43,462.31 L93.63,460.97 L93.83,459.63 L94.05,458.28 L94.29,456.94 L94.55,455.62 L94.84,454.31 L95.16,453.05 L95.50,451.82 L95.88,450.64 L96.31,449.51 L96.77,448.45 L97.28,447.47 L97.84,446.57 L98.45,445.76 L99.12,445.05 L99.86,444.45 L100.65,443.96 L101.51,443.60 L102.45,443.38 L103.45,443.29 L104.52,443.33 L105.62,443.49 L106.73,443.75 L107.84,444.09 L108.92,444.50 L109.97,444.98 L110.99,445.51 L111.98,446.10 L112.95,446.73 L113.90,447.42 L114.82,448.15 L115.72,448.92 L116.61,449.72 L117.48,450.56 L118.33,451.42 L119.18,452.31 L120.01,453.22 L120.84,454.15 L121.67,455.08 L122.49,456.03 L123.30,456.99 L124.12,457.94 L124.95,458.89 L125.78,459.84 L126.61,460.78 L127.45,461.71 L128.30,462.62 L129.16,463.53 L130.02,464.43 L130.89,465.32 L131.76,466.20 L132.65,467.06 L133.53,467.92 L134.43,468.77 L135.33,469.61 L136.24,470.45 L137.15,471.27 L138.07,472.08 L138.99,472.89 L139.92,473.68 L140.85,474.47 L141.79,475.25 L142.74,476.02 L143.69,476.78 L144.64,477.53 L145.60,478.28 L146.57,479.01 L147.53,479.74 L148.51,480.46 L149.48,481.18 L150.47,481.88 L151.45,482.58 L152.44,483.27 L153.43,483.95 L154.43,484.63 L155.43,485.30 L156.43,485.96 L157.44,486.61 L158.45,487.26 L159.47,487.89 L160.49,488.53 L161.51,489.15 L162.54,489.77 L163.57,490.38 L164.60,490.98 L165.64,491.58 L166.67,492.17 L167.72,492.75 L168.76,493.33 L169.81,493.90 L170.87,494.46 L171.92,495.02 L172.98,495.57 L174.04,496.11 L175.11,496.65 L176.18,497.18 L177.25,497.70 L178.32,498.22 L179.40,498.73 L180.48,499.24 L181.56,499.74 L182.65,500.23 L183.74,500.72 L184.83,501.20 L185.92,501.67 L187.02,502.14 L188.12,502.61 L189.22,503.06 L190.32,503.52 L191.43,503.96 L192.54,504.40 L193.65,504.84 L194.77,505.27 L195.88,505.69 L197.00,506.11 L198.12,506.52 L199.25,506.93 L200.37,507.33 L201.50,507.73 L202.63,508.12 L203.77,508.51 L204.90,508.89 L206.04,509.27 L207.18,509.64 L208.32,510.01 L209.46,510.37 L210.60,510.73 L211.75,511.08 L212.90,511.43 L214.05,511.77 L215.20,512.11 L216.35,512.44 L217.51,512.77 L218.67,513.10 L219.83,513.42 L220.99,513.73 L222.15,514.05 L223.31,514.35 L224.48,514.66 L225.64,514.96 L226.81,515.25 L227.98,515.54 L229.15,515.83 L230.32,516.11 L231.50,516.39 L232.67,516.66 L233.85,516.94 L235.02,517.20 L236.20,517.47 L237.38,517.73 L238.56,517.98 L239.74,518.24 L240.92,518.48 L242.10,518.73 L243.29,518.97 L244.47,519.21 L245.66,519.45 L246.84,519.68 L248.03,519.91 L249.22,520.13 L250.41,520.36 L251.60,520.58 L252.79,520.79 L253.98,521.01 L255.17,521.22 L256.36,521.42 L257.55,521.63 L258.74,521.83 L259.94,522.03 L261.13,522.23 L262.32,522.42 L263.52,522.61 L264.71,522.80 L265.91,522.99 L267.10,523.17 L268.30,523.35 L269.49,523.53 L270.69,523.71 L271.88,523.89 L273.08,524.06 L274.27,524.23 L275.47,524.40 L276.66,524.56 L277.86,524.73 L279.05,524.89 L280.25,525.05 L281.44,525.21 L282.64,525.36 L283.83,525.51 L285.03,525.66 L286.23,525.81 L287.42,525.96 L288.62,526.11 L289.81,526.25 L291.01,526.39 L292.21,526.53 L293.40,526.67 L294.60,526.80 L295.80,526.93 L296.99,527.07 L298.19,527.20 L299.38,527.32 L300.58,527.45 L301.78,527.57 L302.98,527.69 L304.17,527.82 L305.37,527.93 L306.57,528.05 L307.76,528.17 L308.96,528.28 L310.16,528.39 L311.36,528.50 L312.55,528.61 L313.75,528.72 L314.95,528.82 L316.15,528.92 L317.34,529.03 L318.54,529.13 L319.74,529.22 L320.94,529.32 L322.14,529.42 L323.33,529.51 L324.53,529.60 L325.73,529.69 L326.93,529.78 L328.13,529.87 L329.33,529.96 L330.52,530.04 L331.72,530.13 L332.92,530.21 L334.12,530.29 L335.32,530.37 L336.52,530.45 L337.72,530.53 L338.92,530.60 L340.12,530.68 L341.31,530.75 L342.51,530.82 L343.71,530.89 L344.91,530.96 L346.11,531.03 L347.31,531.10 L348.51,531.16 L349.71,531.23 L350.91,531.29 L352.11,531.36 L353.31,531.42 L354.51,531.48 L355.71,531.54 L356.91,531.60 L358.11,531.65 L359.31,531.71 L360.51,531.77 L361.71,531.82 L362.91,531.87 L364.11,531.93 L365.31,531.98 L366.51,532.03 L367.72,532.08 L368.92,532.13 L370.12,532.18 L371.32,532.22 L372.52,532.27 L373.72,532.32 L374.92,532.36 L376.12,532.41 L377.32,532.45 L378.53,532.49 L379.73,532.54 L380.93,532.58 L382.13,532.62 L383.33,532.66 L384.53,532.70 L385.74,532.74 L386.94,532.77 L388.14,532.81 L389.34,532.85 L390.54,532.89 L391.75,532.92 L392.95,532.96 L394.15,532.99 L395.35,533.03 L396.56,533.06 L397.76,533.09 L398.96,533.13 L400.16,533.16 L401.37,533.19 L402.57,533.22 L403.77,533.26 L404.97,533.29 L406.18,533.32 L407.38,533.35 L408.58,533.38 L409.79,533.41 L410.99,533.44 L412.19,533.47 L413.40,533.50 L414.60,533.53 L415.80,533.56 L417.01,533.59 L418.21,533.61 L419.42,533.64 L420.62,533.67 L421.82,533.70 L423.03,533.73 L424.23,533.76 L425.44,533.78 L426.64,533.81 L427.84,533.84 L429.05,533.87 L430.25,533.90 L431.46,533.92 L432.66,533.95 L433.87,533.98 L435.07,534.01 L436.28,534.04 L437.48,534.06 L438.69,534.09 L439.89,534.12 L441.10,534.15 L442.30,534.18 L443.51,534.21 L444.71,534.24 L445.92,534.27 L447.12,534.30 L448.33,534.33 L449.53,534.36 L450.74,534.39 L451.94,534.42 L453.15,534.45 L454.35,534.49 L455.56,534.52 L456.77,534.55 L457.97,534.58 L459.18,534.62 L460.38,534.65 L461.59,534.69 L462.80,534.72 L464.00,534.76 L465.21,534.79 L466.41,534.83 L467.62,534.87 L468.83,534.90 L470.03,534.94" stroke="#000" stroke-width="3.2"/>
<path d="M62.30,436.00 L62.30,531.00 L61.00,535.30" stroke="#ff0000" stroke-width="2.4" stroke-dasharray="5.4 3.06" stroke-dashoffset="-2.9"/>
<path d="M78.78,425.41 L78.87,426.51 L78.96,427.62 L79.03,428.73 L79.10,429.86 L79.16,430.99 L79.22,432.13 L79.27,433.28 L79.31,434.44 L79.35,435.60 L79.38,436.77 L79.41,437.95 L79.43,439.13 L79.45,440.32 L79.47,441.51 L79.48,442.71 L79.49,443.92 L79.50,445.13 L79.51,446.35 L79.51,447.57 L79.52,448.79 L79.53,450.02 L79.53,451.25 L79.54,452.49 L79.54,453.72 L79.55,454.96 L79.56,456.21 L79.58,457.45 L79.59,458.70 L79.61,459.95 L79.63,461.20 L79.66,462.45 L79.69,463.70 L79.72,464.96 L79.76,466.21 L79.81,467.46 L79.86,468.72 L79.92,469.97 L79.98,471.22 L80.05,472.47 L80.13,473.72 L80.22,474.96 L80.32,476.21 L80.42,477.45 L80.54,478.69 L80.66,479.93 L80.80,481.16 L80.94,482.39 L81.10,483.62 L81.27,484.85 L81.45,486.06 L81.64,487.28 L81.84,488.49 L82.06,489.69 L82.29,490.89 L82.54,492.09 L82.80,493.27 L83.08,494.46 L83.37,495.63 L83.67,496.80 L83.99,497.96 L84.33,499.11 L84.69,500.26 L85.06,501.40 L85.46,502.53 L85.87,503.65 L86.29,504.77 L86.74,505.87 L87.21,506.97 L87.70,508.05 L88.20,509.13 L88.73,510.19 L89.28,511.25" stroke="#ff0000" stroke-width="2.5" stroke-dasharray="5.4 3.0" stroke-dashoffset="5.80"/>
<path d="M89.28,511.25 L89.85,512.29 L90.45,513.33 L91.06,514.35 L91.70,515.36 L92.36,516.36 L93.04,517.34 L93.75,518.31 L94.48,519.26 L95.23,520.18 L96.01,521.09 L96.81,521.98 L97.63,522.84 L98.47,523.68 L99.34,524.49 L100.22,525.28 L101.14,526.03 L102.07,526.76 L103.03,527.45 L104.01,528.11 L105.01,528.74 L106.03,529.34 L107.07,529.90 L108.13,530.44 L109.21,530.94 L110.30,531.42 L111.41,531.86 L112.54,532.28 L113.68,532.66 L114.83,533.02 L116.00,533.34 L117.17,533.64 L118.36,533.91 L119.56,534.15 L120.77,534.37 L121.99,534.56 L123.21,534.72 L124.44,534.86 L125.68,534.98 L126.93,535.07 L128.18,535.15 L129.43,535.21 L130.68,535.25 L131.94,535.28 L133.20,535.30 L134.46,535.30 L135.73,535.30 L136.99,535.28 L138.25,535.26 L139.51,535.23 L140.76,535.20 L142.02,535.16 L143.27,535.12 L144.51,535.09 L145.75,535.05 L146.98,535.02 L148.21,534.99 L149.42,534.96 L150.63,534.94 L151.83,534.94 L153.02,534.94 L154.20,534.95 L155.37,534.98 L156.53,535.02 L157.67,535.07 L158.80,535.15 L159.92,535.24 L300.00,535.35 L470.00,535.40" stroke="#ff0000" stroke-width="2.5" stroke-dasharray="5.6 3.8" stroke-dashoffset="3.97"/>
<path d="M64.20,541.00 L64.50,548.00 L64.60,560.00 L64.70,600.00 L64.80,700.00 L64.80,745.00" stroke="#0000e6" stroke-width="3.2" stroke-linecap="round" stroke-dasharray="18.5 15" stroke-dashoffset="23.99"/>
<path d="M104.75,740.87 L105.26,739.78 L105.79,738.69 L106.32,737.62 L106.87,736.54 L107.43,735.48 L107.99,734.41 L108.57,733.35 L109.15,732.30 L109.74,731.25 L110.34,730.20 L110.95,729.16 L111.56,728.12 L112.18,727.08 L112.80,726.05 L113.44,725.02 L114.07,723.99 L114.71,722.96 L115.36,721.94 L116.01,720.92 L116.66,719.90 L117.32,718.89 L117.98,717.87 L118.65,716.86 L119.31,715.85 L119.98,714.84 L120.65,713.83 L121.32,712.82 L121.99,711.81 L122.66,710.80 L123.34,709.80 L124.02,708.80 L124.69,707.79 L125.38,706.79 L126.06,705.80 L126.75,704.80 L127.43,703.80 L128.12,702.81 L128.82,701.81 L129.51,700.82 L130.21,699.83 L130.91,698.85 L131.61,697.86 L132.31,696.88 L133.02,695.89 L133.73,694.91 L134.44,693.94 L135.15,692.96 L135.87,691.99 L136.59,691.01 L137.31,690.04 L138.04,689.07 L138.76,688.11 L139.49,687.14 L140.22,686.18 L140.95,685.21 L141.69,684.25 L142.43,683.29 L143.16,682.34 L143.90,681.38 L144.65,680.42 L145.39,679.47 L146.13,678.51 L146.88,677.56 L147.63,676.61 L148.38,675.66 L149.13,674.71 L149.88,673.76 L150.63,672.81 L151.38,671.86 L152.14,670.91 L152.89,669.96 L153.65,669.02 L154.41,668.07 L155.17,667.13 L155.93,666.19 L156.70,665.25 L157.46,664.31 L158.23,663.37 L159.00,662.44 L159.78,661.51 L160.56,660.58 L161.34,659.65 L162.12,658.73 L162.91,657.81 L163.70,656.90 L164.50,655.99 L165.29,655.08 L166.10,654.17 L166.91,653.28 L167.72,652.38 L168.53,651.49 L169.36,650.61 L170.18,649.72 L171.01,648.85 L171.85,647.98 L172.69,647.11 L173.53,646.25 L174.38,645.39 L175.24,644.53 L176.09,643.68 L176.95,642.84 L177.82,642.00 L178.69,641.16 L179.56,640.33 L180.44,639.50 L181.33,638.67 L182.21,637.85 L183.10,637.04 L184.00,636.23 L184.90,635.42 L185.80,634.61 L186.71,633.81 L187.62,633.02 L188.53,632.23 L189.45,631.44 L190.37,630.65 L191.29,629.87 L192.22,629.09 L193.15,628.32 L194.08,627.55 L195.02,626.78 L195.96,626.01 L196.90,625.25 L197.84,624.49 L198.79,623.74 L199.74,622.98 L200.69,622.23 L201.64,621.48 L202.60,620.74 L203.55,620.00 L204.51,619.26 L205.48,618.52 L206.44,617.79 L207.41,617.06 L208.38,616.33 L209.35,615.61 L210.32,614.89 L211.30,614.17 L212.28,613.46 L213.26,612.75 L214.25,612.05 L215.23,611.35 L216.23,610.65 L217.22,609.96 L218.22,609.28 L219.21,608.59 L220.22,607.92 L221.22,607.24 L222.23,606.57 L223.24,605.91 L224.26,605.25 L225.27,604.60 L226.29,603.95 L227.32,603.31 L228.34,602.67 L229.37,602.04 L230.41,601.41 L231.44,600.79 L232.48,600.17 L233.53,599.56 L234.57,598.95 L235.62,598.35 L236.67,597.76 L237.73,597.17 L238.79,596.59 L239.85,596.02 L240.92,595.45 L241.99,594.89 L243.07,594.33 L244.14,593.78 L245.22,593.24 L246.31,592.71 L247.40,592.18 L248.49,591.66 L249.59,591.14 L250.69,590.63 L251.79,590.13 L252.90,589.64 L254.01,589.15 L255.12,588.68 L256.24,588.21 L257.36,587.74 L258.49,587.29 L259.62,586.84 L260.76,586.40 L261.90,585.97" stroke="#0000e6" stroke-width="3.1" stroke-linecap="round" stroke-dasharray="12.6 13.6" stroke-dashoffset="1.96"/>
<path d="M262.42,585.57 L263.53,585.08 L264.64,584.60 L265.76,584.12 L266.87,583.65 L267.99,583.18 L269.11,582.72 L270.23,582.26 L271.35,581.80 L272.47,581.35 L273.59,580.90 L274.72,580.45 L275.85,580.01 L276.97,579.58 L278.10,579.15 L279.23,578.72 L280.36,578.29 L281.49,577.87 L282.63,577.46 L283.76,577.05 L284.90,576.64 L286.04,576.23 L287.17,575.83 L288.31,575.44 L289.45,575.04 L290.59,574.65 L291.74,574.27 L292.88,573.89 L294.02,573.51 L295.17,573.14 L296.32,572.77 L297.47,572.40 L298.61,572.04 L299.76,571.68 L300.92,571.32 L302.07,570.97 L303.22,570.62 L304.37,570.28 L305.53,569.93 L306.69,569.60 L307.84,569.26 L309.00,568.93 L310.16,568.60 L311.32,568.28 L312.48,567.96 L313.64,567.64 L314.80,567.33 L315.97,567.01 L317.13,566.71 L318.30,566.40 L319.46,566.10 L320.63,565.80 L321.80,565.51 L322.97,565.22 L324.13,564.93 L325.30,564.64 L326.48,564.36 L327.65,564.08 L328.82,563.81 L329.99,563.53 L331.17,563.26 L332.34,562.99 L333.52,562.73 L334.69,562.47 L335.87,562.21 L337.05,561.96 L338.23,561.70 L339.41,561.45 L340.59,561.21 L341.77,560.96 L342.95,560.72 L344.13,560.48 L345.31,560.25 L346.50,560.01 L347.68,559.78 L348.87,559.56 L350.05,559.33 L351.24,559.11 L352.42,558.89 L353.61,558.67 L354.80,558.46 L355.98,558.25 L357.17,558.04 L358.36,557.83 L359.55,557.62 L360.74,557.42 L361.93,557.22 L363.12,557.02 L364.31,556.83 L365.51,556.64 L366.70,556.45 L367.89,556.26 L369.09,556.07 L370.28,555.89 L371.47,555.71 L372.67,555.53 L373.86,555.35 L375.06,555.18 L376.25,555.01 L377.45,554.83 L378.65,554.67 L379.84,554.50 L381.04,554.34 L382.24,554.17 L383.44,554.01 L384.64,553.86 L385.83,553.70 L387.03,553.55 L388.23,553.39 L389.43,553.24 L390.63,553.09 L391.83,552.95 L393.03,552.80 L394.23,552.66 L395.43,552.52 L396.64,552.38 L397.84,552.24 L399.04,552.10 L400.24,551.97 L401.44,551.84 L402.64,551.71 L403.85,551.58 L405.05,551.45 L406.25,551.32 L407.45,551.20 L408.65,551.08 L409.86,550.95 L411.06,550.83 L412.26,550.71 L413.47,550.60 L414.67,550.48 L415.87,550.37 L417.08,550.25 L418.28,550.14 L419.48,550.03 L420.69,549.92 L421.89,549.81 L423.09,549.71 L424.30,549.60 L425.50,549.50 L426.70,549.40 L427.91,549.29 L429.11,549.19 L430.31,549.09 L431.52,549.00 L432.72,548.90 L433.92,548.80 L435.12,548.71 L436.33,548.61 L437.53,548.52 L438.73,548.43 L439.93,548.34 L441.14,548.25 L442.34,548.16 L443.54,548.07 L444.74,547.98 L445.94,547.89 L447.14,547.81 L448.35,547.72 L449.55,547.64 L450.75,547.55 L451.95,547.47 L453.15,547.39 L454.35,547.31 L455.55,547.22 L456.75,547.14 L457.95,547.06 L459.14,546.98 L460.34,546.91 L461.54,546.83 L462.74,546.75 L463.94,546.67 L465.13,546.60 L466.33,546.52 L467.53,546.44 L468.72,546.37 L469.92,546.29" stroke="#0000e6" stroke-width="3.1" stroke-linecap="round" stroke-dasharray="17.3 14.8" stroke-dashoffset="22.29"/>
</g>
<g stroke="#000" stroke-width="1.05" fill="none">
<rect x="61.00" y="435.90" width="397.90" height="298.50" stroke-width="1.4"/>
<line x1="61.00" y1="734.30" x2="67.50" y2="734.30"/>
<line x1="458.90" y1="734.30" x2="452.40" y2="734.30"/>
<line x1="61.00" y1="684.55" x2="67.50" y2="684.55"/>
<line x1="458.90" y1="684.55" x2="452.40" y2="684.55"/>
<line x1="61.00" y1="634.80" x2="67.50" y2="634.80"/>
<line x1="458.90" y1="634.80" x2="452.40" y2="634.80"/>
<line x1="61.00" y1="585.05" x2="67.50" y2="585.05"/>
<line x1="458.90" y1="585.05" x2="452.40" y2="585.05"/>
<line x1="61.00" y1="535.30" x2="67.50" y2="535.30"/>
<line x1="458.90" y1="535.30" x2="452.40" y2="535.30"/>
<line x1="61.00" y1="485.55" x2="67.50" y2="485.55"/>
<line x1="458.90" y1="485.55" x2="452.40" y2="485.55"/>
<line x1="61.00" y1="435.80" x2="67.50" y2="435.80"/>
<line x1="458.90" y1="435.80" x2="452.40" y2="435.80"/>
<line x1="61.00" y1="734.40" x2="61.00" y2="727.90"/>
<line x1="61.00" y1="435.90" x2="61.00" y2="442.40"/>
<line x1="127.31" y1="734.40" x2="127.31" y2="727.90"/>
<line x1="127.31" y1="435.90" x2="127.31" y2="442.40"/>
<line x1="193.63" y1="734.40" x2="193.63" y2="727.90"/>
<line x1="193.63" y1="435.90" x2="193.63" y2="442.40"/>
<line x1="259.94" y1="734.40" x2="259.94" y2="727.90"/>
<line x1="259.94" y1="435.90" x2="259.94" y2="442.40"/>
<line x1="326.26" y1="734.40" x2="326.26" y2="727.90"/>
<line x1="326.26" y1="435.90" x2="326.26" y2="442.40"/>
<line x1="392.57" y1="734.40" x2="392.57" y2="727.90"/>
<line x1="392.57" y1="435.90" x2="392.57" y2="442.40"/>
<line x1="458.89" y1="734.40" x2="458.89" y2="727.90"/>
<line x1="458.89" y1="435.90" x2="458.89" y2="442.40"/>
</g>
<g font-family="Liberation Sans, sans-serif" font-weight="bold" font-size="18" fill="#000">
<text x="52.2" y="740.70" text-anchor="end" textLength="16.97" lengthAdjust="spacingAndGlyphs">-4</text>
<text x="52.2" y="690.95" text-anchor="end" textLength="16.97" lengthAdjust="spacingAndGlyphs">-3</text>
<text x="52.2" y="641.20" text-anchor="end" textLength="16.97" lengthAdjust="spacingAndGlyphs">-2</text>
<text x="52.2" y="591.45" text-anchor="end" textLength="16.97" lengthAdjust="spacingAndGlyphs">-1</text>
<text x="52.2" y="541.70" text-anchor="end" textLength="10.61" lengthAdjust="spacingAndGlyphs">0</text>
<text x="52.2" y="491.95" text-anchor="end" textLength="10.61" lengthAdjust="spacingAndGlyphs">1</text>
<text x="52.2" y="442.20" text-anchor="end" textLength="10.61" lengthAdjust="spacingAndGlyphs">2</text>
<text x="61.30" y="755.9" text-anchor="middle" textLength="10.56" lengthAdjust="spacingAndGlyphs">0</text>
<text x="127.61" y="755.9" text-anchor="middle" textLength="26.40" lengthAdjust="spacingAndGlyphs">0.5</text>
<text x="193.93" y="755.9" text-anchor="middle" textLength="10.56" lengthAdjust="spacingAndGlyphs">1</text>
<text x="260.25" y="755.9" text-anchor="middle" textLength="26.40" lengthAdjust="spacingAndGlyphs">1.5</text>
<text x="326.56" y="755.9" text-anchor="middle" textLength="10.56" lengthAdjust="spacingAndGlyphs">2</text>
<text x="392.88" y="755.9" text-anchor="middle" textLength="26.40" lengthAdjust="spacingAndGlyphs">2.5</text>
<text x="459.19" y="755.9" text-anchor="middle" textLength="10.56" lengthAdjust="spacingAndGlyphs">3</text>
<text x="221.7" y="777.9" textLength="91" lengthAdjust="spacingAndGlyphs">Time [ <tspan font-weight="normal" font-family="Liberation Serif, serif" font-size="19">µ</tspan>s ]</text>
<text x="425.3" y="719.6" textLength="23.90" lengthAdjust="spacingAndGlyphs">(b)</text>
<text transform="translate(22,735.1) rotate(-90)" textLength="294.5" lengthAdjust="spacingAndGlyphs">OH production rate [10<tspan font-size="12" dy="-9">22</tspan><tspan dy="9">cm</tspan><tspan font-size="12" dy="-9">-3</tspan><tspan dy="9">s</tspan><tspan font-size="12" dy="-9">-1</tspan><tspan dy="9"> ]</tspan></text>
</g>
<g font-family="Liberation Sans, sans-serif" font-weight="bold" fill="#000">
<text x="307.6" y="456.2" font-size="14.4" textLength="80.6" lengthAdjust="spacingAndGlyphs">OH - cycle</text>
<line x1="307.4" y1="458.6" x2="388.9" y2="458.6" stroke="#000" stroke-width="1.3"/>
<text x="316.4" y="477.5" font-size="14" textLength="130.5" lengthAdjust="spacingAndGlyphs">(R123) O(<tspan font-size="9.5" dy="-5.5">3</tspan><tspan dy="5.5">P) + HO</tspan><tspan font-size="9.5" dy="3">2</tspan></text>
<text x="316.4" y="498" font-size="14" textLength="120" lengthAdjust="spacingAndGlyphs">(R148) OH+ N(<tspan font-size="9.5" dy="-5.5">4</tspan><tspan dy="5.5">S)</tspan></text>
<text x="316.4" y="519.2" font-size="14" textLength="124" lengthAdjust="spacingAndGlyphs">(R149) OH + O(<tspan font-size="9.5" dy="-5.5">3</tspan><tspan dy="5.5">P)</tspan></text>
<text x="97.8" y="551.5" font-size="14.4" textLength="110.7" lengthAdjust="spacingAndGlyphs">OH - production</text>
<line x1="96.8" y1="554.2" x2="208.8" y2="554.2" stroke="#000" stroke-width="1.3"/>
<text x="105.6" y="568.5" font-size="14" textLength="118.7" lengthAdjust="spacingAndGlyphs">(R81) N<tspan font-size="9.5" dy="3">2</tspan><tspan dy="-3">(a) + H</tspan><tspan font-size="9.5" dy="3">2</tspan><tspan dy="-3">O</tspan></text>
<text x="105.3" y="587.4" font-size="14" textLength="130.3" lengthAdjust="spacingAndGlyphs">(R128) O(<tspan font-size="9.5" dy="-5.5">1</tspan><tspan dy="5.5">D) + H</tspan><tspan font-size="9.5" dy="3">2</tspan><tspan dy="-3">O</tspan></text>
<text x="254.3" y="633.3" font-size="14.4" textLength="153.6" lengthAdjust="spacingAndGlyphs">OH - recombination</text>
<line x1="253.2" y1="636.2" x2="408.6" y2="636.2" stroke="#000" stroke-width="1.3"/>
<text x="261.7" y="651.1" font-size="14" textLength="182.5" lengthAdjust="spacingAndGlyphs">(R140 - 144) OH + OH (+M)</text>
<text x="261.7" y="668.7" font-size="14" textLength="166.3" lengthAdjust="spacingAndGlyphs">(R145, 146) OH + H (+M)</text>
<text x="261.7" y="686" font-size="14" textLength="115.4" lengthAdjust="spacingAndGlyphs">(R147) OH + HO<tspan font-size="9.5" dy="3">2</tspan></text>
</g>
<clipPath id="cc1"><rect x="270" y="430" width="30.9" height="100"/></clipPath><clipPath id="cc2"><rect x="230" y="600" width="27.1" height="110"/></clipPath>
<path clip-path="url(#cc1)" d="M303.6,443.6 C295,453.4 287.2,466.5 287.2,482.6 C287.2,498.7 295,511.6 303.6,521.6" fill="none" stroke="#000" stroke-width="3.9"/>
<path clip-path="url(#cc2)" d="M258.6,612.2 C249.6,621.9 243.3,636.5 243.3,653.8 C243.3,671 249.6,685.7 258.6,695.5" fill="none" stroke="#000" stroke-width="4.1"/>
<line x1="307.5" y1="440.2" x2="315.7" y2="440.2" stroke="#000" stroke-width="1.1"/>
<line x1="263" y1="699.8" x2="271.6" y2="699.8" stroke="#000" stroke-width="1.3"/>
<line x1="268.7" y1="482" x2="213" y2="501.4" stroke="#808080" stroke-width="0.75"/>
<path d="M206.9,503.5 L215.8,496.6 L214.2,501.7 L218,504 Z" fill="#000"/>
<line x1="231.5" y1="652.5" x2="197" y2="646" stroke="#808080" stroke-width="0.75"/>
<path d="M189.7,644.2 L201.2,642.2 L198,646.1 L200,650.6 Z" fill="#000"/>
</svg></body></html>
